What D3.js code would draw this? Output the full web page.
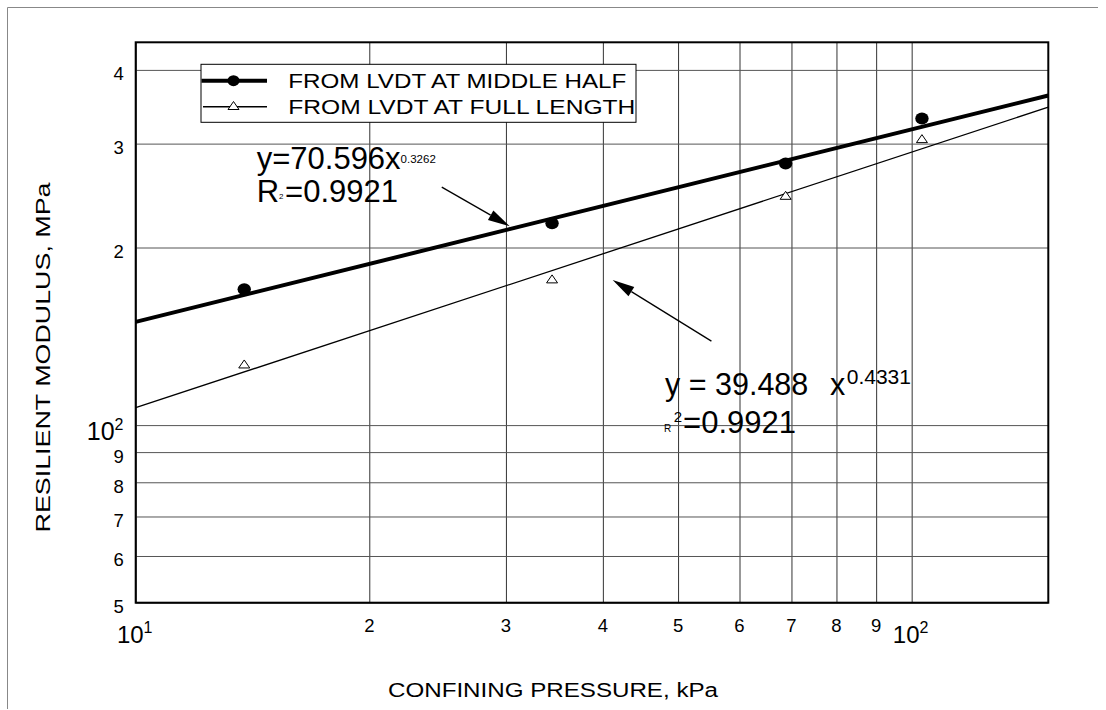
<!DOCTYPE html>
<html>
<head>
<meta charset="utf-8">
<script src="https://cdn.jsdelivr.net/npm/d3@7/dist/d3.min.js"></script>
<style>
  html, body { margin: 0; padding: 0; background: #fff; }
  svg { display: block; font-family: "Liberation Sans", Arial, Helvetica, sans-serif; }
</style>
</head>
<body>
<svg id="chart" width="1106" height="710"></svg>
<script>
// Confining pressure (kPa) at which resilient modulus was measured
const pressure = [13.8, 34.4, 68.8, 103.1];
// Resilient modulus from LVDTs mounted over the middle half of the specimen
const modulusMiddle = [169.9, 219.8, 277.7, 331.0];
// Resilient modulus from LVDTs spanning the full specimen length
const modulusFull = [126.7, 176.6, 244.7, 305.3];

// Power-law fits y = a * x^b
const fitMiddle = [70.596, 0.3262];
const fitFull = [39.488, 0.4331];

// Axis ticks and their labels
const xTickValues = [10, 20, 30, 40, 50, 60, 70, 80, 90, 100];
const xTickLabels = ["10^1", "2", "3", "4", "5", "6", "7", "8", "9", "10^2"];
const yTickValues = [50, 60, 70, 80, 90, 100, 200, 300, 400];
const yTickLabels = ["5", "6", "7", "8", "9", "10^2", "2", "3", "4"];

const seriesNames = ["FROM LVDT AT MIDDLE HALF", "FROM LVDT AT FULL LENGTH"];

// Arrow annotations in data units: [tailX, tailY, tipX, tipY]
const arrowMiddle = [24.8, 253.2, 30.34, 217.4];
const arrowFull = [55.2, 138.8, 41.18, 176.1];

(function draw() {
const svg = d3.select("#chart");
const FONT = "'Liberation Sans', Arial, Helvetica, sans-serif";

const pL = 135.7, pR = 1048.3, pT = 42.3, pB = 602.7;

const x = d3.scaleLog().domain([10, 150]).range([pL, pR]);
const y = d3.scaleLog().domain([50, 445.5]).range([pB, pT]);

// page frame
svg.append("path")
  .attr("d", "M7.5,709 V7.5 H1098")
  .attr("fill", "none").attr("stroke", "#888").attr("stroke-width", 1);

// gridlines through the axis generators
const gridX = svg.append("g")
  .attr("transform", `translate(0,${pB})`)
  .call(d3.axisBottom(x).tickValues(xTickValues).tickSize(-(pB - pT)).tickFormat(""));
gridX.select(".domain").remove();
gridX.selectAll("line").attr("stroke", "#333").attr("stroke-width", 1);

const gridY = svg.append("g")
  .attr("transform", `translate(${pL},0)`)
  .call(d3.axisLeft(y).tickValues(yTickValues).tickSize(-(pR - pL)).tickFormat(""));
gridY.select(".domain").remove();
gridY.selectAll("line").attr("stroke", "#555").attr("stroke-width", 1);

// plot frame
svg.append("rect")
  .attr("x", pL).attr("y", pT)
  .attr("width", pR - pL).attr("height", pB - pT)
  .attr("fill", "none").attr("stroke", "#000").attr("stroke-width", 2);

// tick labels (powers of ten drawn with a raised exponent)
function powLabel(sel, label, anchorX, baseY, bigSize, supSize, supRise, align) {
  const parts = label.split("^");
  const t = sel.append("text")
    .attr("x", anchorX).attr("y", baseY)
    .attr("text-anchor", align)
    .attr("font-family", FONT);
  t.append("tspan").attr("font-size", bigSize).text(parts[0]);
  if (parts.length > 1) {
    t.append("tspan").attr("font-size", supSize).attr("dy", -supRise).text(parts[1]);
  }
}

const xLab = svg.append("g");
xTickValues.forEach((v, i) => {
  const lab = xTickLabels[i];
  if (lab.includes("^")) powLabel(xLab, lab, x(v) - 1, 642.7, 24, 16, 9.7, "middle");
  else powLabel(xLab, lab, x(v), 632.3, 18.5, 0, 0, "middle");
});

const yLab = svg.append("g");
yTickValues.forEach((v, i) => {
  const lab = yTickLabels[i];
  if (lab.includes("^")) powLabel(yLab, lab, 123.5, y(v) + 15, 25, 16, 10, "end");
  else powLabel(yLab, lab, 123.8, y(v) + 10.5, 18.5, 0, 0, "end");
});

// axis titles
svg.append("text")
  .attr("transform", "translate(50,357.5) rotate(-90)")
  .attr("text-anchor", "middle")
  .attr("font-size", 20).attr("font-family", FONT)
  .attr("textLength", 350).attr("lengthAdjust", "spacingAndGlyphs")
  .text("RESILIENT MODULUS, MPa");

svg.append("text")
  .attr("x", 553).attr("y", 697)
  .attr("text-anchor", "middle")
  .attr("font-size", 20).attr("font-family", FONT)
  .attr("textLength", 330).attr("lengthAdjust", "spacingAndGlyphs")
  .text("CONFINING PRESSURE, kPa");

// fitted power-law lines (straight on log-log axes)
const clip = svg.append("defs").append("clipPath").attr("id", "plotClip");
clip.append("rect").attr("x", pL).attr("y", pT).attr("width", pR - pL).attr("height", pB - pT);

const xEnds = x.domain();
const fitLine = d3.line().x(d => x(d[0])).y(d => y(d[1]));
function fitPoints(fit) { return xEnds.map(xv => [xv, fit[0] * Math.pow(xv, fit[1])]); }

const plot = svg.append("g").attr("clip-path", "url(#plotClip)");
plot.append("path").datum(fitPoints(fitMiddle))
  .attr("d", fitLine).attr("fill", "none").attr("stroke", "#000").attr("stroke-width", 4);
plot.append("path").datum(fitPoints(fitFull))
  .attr("d", fitLine).attr("fill", "none").attr("stroke", "#000").attr("stroke-width", 1.3);

// measured points
const triPath = (cx, cy) => `M${cx},${cy - 4.5} L${cx + 5.5},${cy + 3.5} L${cx - 5.5},${cy + 3.5} Z`;

svg.append("g").selectAll("ellipse")
  .data(pressure.map((p, i) => [p, modulusMiddle[i]]))
  .join("ellipse")
  .attr("cx", d => x(d[0])).attr("cy", d => y(d[1]))
  .attr("rx", 6.7).attr("ry", 6).attr("fill", "#000");

svg.append("g").selectAll("path")
  .data(pressure.map((p, i) => [p, modulusFull[i]]))
  .join("path")
  .attr("d", d => triPath(x(d[0]), y(d[1])))
  .attr("fill", "#fff").attr("stroke", "#000").attr("stroke-width", 1);

// legend
const lg = svg.append("g");
lg.append("rect").attr("x", 201).attr("y", 64.3).attr("width", 435).attr("height", 58)
  .attr("fill", "#fff").attr("stroke", "#000").attr("stroke-width", 1);
lg.append("line").attr("x1", 201.5).attr("x2", 267).attr("y1", 80.7).attr("y2", 80.7)
  .attr("stroke", "#000").attr("stroke-width", 4);
lg.append("ellipse").attr("cx", 233.5).attr("cy", 80.7).attr("rx", 6).attr("ry", 5.5).attr("fill", "#000");
lg.append("line").attr("x1", 203).attr("x2", 267).attr("y1", 106.7).attr("y2", 106.7)
  .attr("stroke", "#000").attr("stroke-width", 1.5);
lg.append("path").attr("d", triPath(233.5, 106)).attr("fill", "#fff").attr("stroke", "#000");
lg.append("text").attr("x", 288.3).attr("y", 88.3)
  .attr("font-size", 20.5).attr("font-family", FONT)
  .attr("textLength", 338).attr("lengthAdjust", "spacingAndGlyphs")
  .text(seriesNames[0]);
lg.append("text").attr("x", 288.3).attr("y", 114.3)
  .attr("font-size", 20.5).attr("font-family", FONT)
  .attr("textLength", 347).attr("lengthAdjust", "spacingAndGlyphs")
  .text(seriesNames[1]);

// equation labels
const eq = svg.append("g").attr("font-family", FONT);
const e1 = eq.append("text").attr("x", 256.7).attr("y", 169.3).attr("font-size", 31);
e1.append("tspan").text(`y=${fitMiddle[0]}x`);
e1.append("tspan").attr("font-size", 11.5).attr("dy", -6).text(fitMiddle[1]);

const r1 = eq.append("text").attr("x", 256.7).attr("y", 201.7).attr("font-size", 31);
r1.append("tspan").text("R");
r1.append("tspan").attr("font-size", 8).attr("dy", -3).text("2");
r1.append("tspan").attr("dy", 3).attr("dx", 1.5).text("=0.9921");

eq.append("text").attr("x", 665).attr("y", 395).attr("font-size", 30.5)
  .text(`y = ${fitFull[0].toFixed(3)}`);
const e2 = eq.append("text").attr("x", 830).attr("y", 395).attr("font-size", 30.5);
e2.append("tspan").text("x");
e2.append("tspan").attr("font-size", 21).attr("dy", -11).attr("dx", 1.5).text(fitFull[1]);

const r2 = eq.append("text").attr("x", 664).attr("y", 432).attr("font-size", 10);
r2.append("tspan").text("R");
r2.append("tspan").attr("font-size", 15).attr("dy", -10.3).attr("dx", 2.5).text("2");
r2.append("tspan").attr("font-size", 31).attr("dy", 11.6).attr("dx", 1).text("=0.9921");

// arrows pointing at the fitted lines
function arrow(a) {
  const x1 = x(a[0]), y1 = y(a[1]), x2 = x(a[2]), y2 = y(a[3]);
  const ang = Math.atan2(y2 - y1, x2 - x1);
  const len = 22, hw = 5.5;
  const bx = x2 - len * Math.cos(ang), by = y2 - len * Math.sin(ang);
  const px = -Math.sin(ang) * hw, py = Math.cos(ang) * hw;
  svg.append("line").attr("x1", x1).attr("y1", y1).attr("x2", bx).attr("y2", by)
    .attr("stroke", "#000").attr("stroke-width", 1.3);
  svg.append("path")
    .attr("d", `M${x2},${y2} L${bx + px},${by + py} L${bx - px},${by - py} Z`)
    .attr("fill", "#000");
}
arrow(arrowMiddle);
arrow(arrowFull);
})();
</script>
</body>
</html>
